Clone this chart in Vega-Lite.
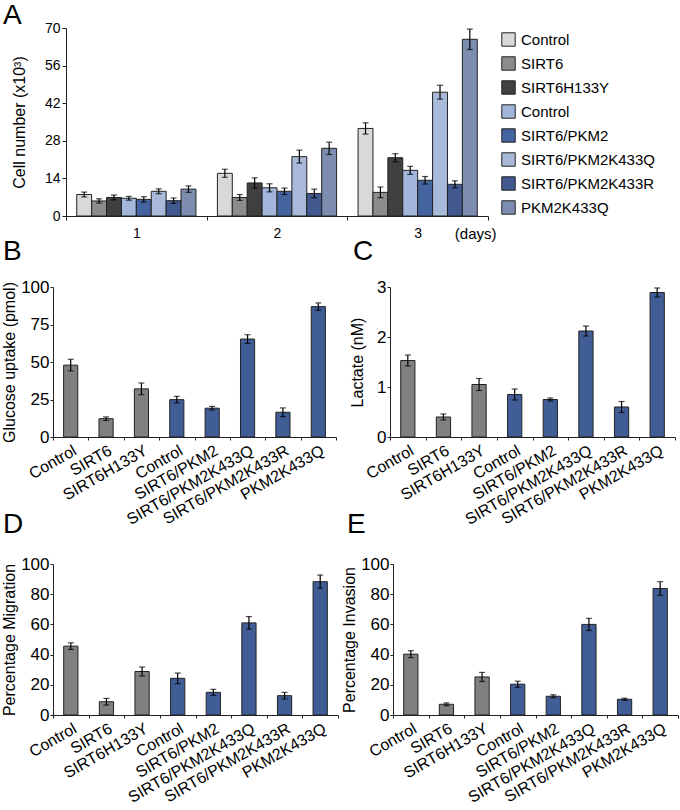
{
  "$schema": "https://vega.github.io/schema/vega-lite/v6.json",
  "background": "white",
  "padding": {"left": 0, "top": 2, "right": 0, "bottom": 2},
  "config": {
    "font": "Liberation Sans",
    "view": {"stroke": null},
    "axis": {"domainColor": "#222", "tickColor": "#222", "labelColor": "#000", "titleColor": "#000", "grid": false, "titleFontWeight": "normal", "titleFontSize": 16, "labelOverlap": false},
    "title": {"fontSize": 28, "fontWeight": "normal", "anchor": "start", "frame": "group", "color": "#000", "offset": 0}
  },
  "datasets": {
    "cells": [
      {"day": 1, "c": 1, "v": 8.0, "lo": 7.1, "hi": 8.9},
      {"day": 1, "c": 2, "v": 5.6, "lo": 4.8, "hi": 6.4},
      {"day": 1, "c": 3, "v": 6.9, "lo": 6.0, "hi": 7.8},
      {"day": 1, "c": 4, "v": 6.6, "lo": 5.9, "hi": 7.3},
      {"day": 1, "c": 5, "v": 6.2, "lo": 5.2, "hi": 7.2},
      {"day": 1, "c": 6, "v": 9.2, "lo": 8.3, "hi": 10.1},
      {"day": 1, "c": 7, "v": 5.7, "lo": 4.7, "hi": 6.7},
      {"day": 1, "c": 8, "v": 10.0, "lo": 8.8, "hi": 11.2},
      {"day": 2, "c": 1, "v": 15.9, "lo": 14.4, "hi": 17.4},
      {"day": 2, "c": 2, "v": 6.9, "lo": 5.8, "hi": 8.0},
      {"day": 2, "c": 3, "v": 12.3, "lo": 10.4, "hi": 14.2},
      {"day": 2, "c": 4, "v": 10.5, "lo": 9.0, "hi": 12.0},
      {"day": 2, "c": 5, "v": 9.2, "lo": 8.0, "hi": 10.4},
      {"day": 2, "c": 6, "v": 22.1, "lo": 19.7, "hi": 24.5},
      {"day": 2, "c": 7, "v": 8.4, "lo": 6.8, "hi": 10.0},
      {"day": 2, "c": 8, "v": 25.2, "lo": 22.9, "hi": 27.5},
      {"day": 3, "c": 1, "v": 32.6, "lo": 30.5, "hi": 34.7},
      {"day": 3, "c": 2, "v": 8.8, "lo": 6.8, "hi": 10.8},
      {"day": 3, "c": 3, "v": 21.7, "lo": 20.2, "hi": 23.2},
      {"day": 3, "c": 4, "v": 17.0, "lo": 15.5, "hi": 18.5},
      {"day": 3, "c": 5, "v": 13.3, "lo": 11.9, "hi": 14.7},
      {"day": 3, "c": 6, "v": 46.1, "lo": 43.5, "hi": 48.7},
      {"day": 3, "c": 7, "v": 11.8, "lo": 10.5, "hi": 13.1},
      {"day": 3, "c": 8, "v": 65.8, "lo": 62.0, "hi": 69.6}
    ],
    "glucose": [
      {"i": 1, "v": 47.9, "lo": 44.0, "hi": 51.8},
      {"i": 2, "v": 12.2, "lo": 11.0, "hi": 13.4},
      {"i": 3, "v": 32.1, "lo": 28.2, "hi": 36.0},
      {"i": 4, "v": 24.9, "lo": 22.7, "hi": 27.1},
      {"i": 5, "v": 19.2, "lo": 18.0, "hi": 20.4},
      {"i": 6, "v": 65.3, "lo": 62.4, "hi": 68.2},
      {"i": 7, "v": 16.5, "lo": 13.6, "hi": 19.4},
      {"i": 8, "v": 86.9, "lo": 84.4, "hi": 89.4}
    ],
    "lactate": [
      {"i": 1, "v": 1.53, "lo": 1.42, "hi": 1.64},
      {"i": 2, "v": 0.40, "lo": 0.34, "hi": 0.46},
      {"i": 3, "v": 1.05, "lo": 0.93, "hi": 1.17},
      {"i": 4, "v": 0.85, "lo": 0.74, "hi": 0.96},
      {"i": 5, "v": 0.75, "lo": 0.72, "hi": 0.78},
      {"i": 6, "v": 2.12, "lo": 2.02, "hi": 2.22},
      {"i": 7, "v": 0.60, "lo": 0.49, "hi": 0.71},
      {"i": 8, "v": 2.89, "lo": 2.80, "hi": 2.98}
    ],
    "migration": [
      {"i": 1, "v": 45.6, "lo": 43.4, "hi": 47.8},
      {"i": 2, "v": 8.8, "lo": 6.6, "hi": 11.0},
      {"i": 3, "v": 28.8, "lo": 25.8, "hi": 31.8},
      {"i": 4, "v": 24.3, "lo": 20.8, "hi": 27.8},
      {"i": 5, "v": 15.0, "lo": 13.0, "hi": 17.0},
      {"i": 6, "v": 61.0, "lo": 56.8, "hi": 65.2},
      {"i": 7, "v": 12.8, "lo": 10.6, "hi": 15.0},
      {"i": 8, "v": 88.3, "lo": 83.9, "hi": 92.7}
    ],
    "invasion": [
      {"i": 1, "v": 40.3, "lo": 38.0, "hi": 42.6},
      {"i": 2, "v": 7.1, "lo": 6.2, "hi": 8.0},
      {"i": 3, "v": 25.2, "lo": 22.2, "hi": 28.2},
      {"i": 4, "v": 20.4, "lo": 18.4, "hi": 22.4},
      {"i": 5, "v": 12.4, "lo": 11.4, "hi": 13.4},
      {"i": 6, "v": 60.0, "lo": 56.0, "hi": 64.0},
      {"i": 7, "v": 10.4, "lo": 9.7, "hi": 11.1},
      {"i": 8, "v": 83.8, "lo": 79.3, "hi": 88.3}
    ]
  },
  "columns": 1,
  "spacing": -3,
  "align": "none",
  "concat": [
    {
      "title": {"text": "A", "dx": -50, "dy": 13},
      "width": 435,
      "height": 188,
      "data": {"name": "cells"},
      "encoding": {
        "x": {"field": "day", "type": "ordinal", "scale": {"paddingInner": 0, "paddingOuter": 0, "range": [13, 435]},
          "axis": {"labelAngle": 0, "labelFontSize": 14, "tickBand": "extent", "tickSize": 4, "labelPadding": 6, "title": "(days)", "titleFontSize": 15, "titleAngle": 0, "titleX": 443, "titleY": 10, "titleAlign": "right", "titleBaseline": "top"}},
        "xOffset": {"field": "c", "type": "nominal", "scale": {"paddingInner": 0, "paddingOuter": 0.72}}
      },
      "layer": [
        {
          "mark": {"type": "bar", "stroke": "#222", "strokeWidth": 1},
          "encoding": {
            "y": {"field": "v", "type": "quantitative", "title": "Cell number (x10³)", "scale": {"domain": [0, 70]},
              "axis": {"values": [0, 14, 28, 42, 56, 70], "offset": -13, "tickCount": 12, "labelFontSize": 14, "tickSize": 4, "labelPadding": 2, "minExtent": 27, "maxExtent": 27, "titlePadding": 12}},
            "fill": {"field": "c", "type": "nominal",
              "scale": {"domain": [1, 2, 3, 4, 5, 6, 7, 8], "range": ["#d9d9d9", "#8c8c8c", "#404040", "#a3b6dc", "#45649f", "#a9b9d9", "#42598f", "#7d8db0"]},
              "legend": {"orient": "none", "legendX": 448, "legendY": 4, "title": null, "symbolType": "square", "symbolSize": 180, "symbolStrokeColor": "#222", "symbolStrokeWidth": 1, "labelFontSize": 15, "labelLimit": 250, "rowPadding": 5, "labelOffset": 5,
                "labelExpr": "['Control','SIRT6','SIRT6H133Y','Control','SIRT6/PKM2','SIRT6/PKM2K433Q','SIRT6/PKM2K433R','PKM2K433Q'][datum.value-1]"}}
          }
        },
        {
          "mark": {"type": "rule", "color": "#000", "strokeWidth": 1.2},
          "encoding": {"y": {"field": "lo", "type": "quantitative", "title": "Cell number (x10³)"}, "y2": {"field": "hi"}}
        },
        {
          "mark": {"type": "tick", "color": "#000", "size": 6, "thickness": 1.2, "orient": "horizontal"},
          "encoding": {"y": {"field": "lo", "type": "quantitative", "title": "Cell number (x10³)"}}
        },
        {
          "mark": {"type": "tick", "color": "#000", "size": 6, "thickness": 1.2, "orient": "horizontal"},
          "encoding": {"y": {"field": "hi", "type": "quantitative", "title": "Cell number (x10³)"}}
        }
      ]
    },
    {
      "columns": 1,
      "spacing": -17,
      "align": "none",
      "concat": [
        {
          "spacing": 12,
          "hconcat": [
            {
              "title": {"text": "B", "dx": -50, "dy": -8},
              "width": 283, "height": 150,
              "data": {"name": "glucose"},
              "encoding": {
                "x": {"field": "i", "type": "ordinal", "scale": {"paddingInner": 0, "paddingOuter": 0},
                  "axis": {"title": null, "labelAngle": -30, "labelFontSize": 16, "tickBand": "extent", "tickSize": 3, "labelPadding": 2,
                    "labelExpr": "['Control','SIRT6','SIRT6H133Y','Control','SIRT6/PKM2','SIRT6/PKM2K433Q','SIRT6/PKM2K433R','PKM2K433Q'][datum.value-1]"}}
              },
              "layer": [
                {"mark": {"type": "bar", "width": {"band": 0.4}, "stroke": "#222", "strokeWidth": 1},
                  "encoding": {
                    "y": {"field": "v", "type": "quantitative", "title": "Glucose uptake (pmol)", "scale": {"domain": [0, 100]},
                      "axis": {"values": [0, 25, 50, 75, 100], "tickCount": 12, "labelFontSize": 17, "tickSize": 3, "labelPadding": 1, "minExtent": 32, "maxExtent": 32, "titlePadding": 4}},
                    "fill": {"condition": {"test": "datum.i <= 3", "value": "#808080"}, "value": "#415d96"}
                  }},
                {"mark": {"type": "rule", "color": "#000", "strokeWidth": 1.2},
                  "encoding": {"y": {"field": "lo", "type": "quantitative", "title": "Glucose uptake (pmol)"}, "y2": {"field": "hi"}}},
                {"mark": {"type": "tick", "color": "#000", "size": 6, "thickness": 1.2, "orient": "horizontal"},
                  "encoding": {"y": {"field": "lo", "type": "quantitative", "title": "Glucose uptake (pmol)"}}},
                {"mark": {"type": "tick", "color": "#000", "size": 6, "thickness": 1.2, "orient": "horizontal"},
                  "encoding": {"y": {"field": "hi", "type": "quantitative", "title": "Glucose uptake (pmol)"}}}
              ]
            },
            {
              "title": {"text": "C", "dx": -37, "dy": -8},
              "width": 285, "height": 150,
              "data": {"name": "lactate"},
              "encoding": {
                "x": {"field": "i", "type": "ordinal", "scale": {"paddingInner": 0, "paddingOuter": 0},
                  "axis": {"title": null, "labelAngle": -30, "labelFontSize": 16, "tickBand": "extent", "tickSize": 3, "labelPadding": 2,
                    "labelExpr": "['Control','SIRT6','SIRT6H133Y','Control','SIRT6/PKM2','SIRT6/PKM2K433Q','SIRT6/PKM2K433R','PKM2K433Q'][datum.value-1]"}}
              },
              "layer": [
                {"mark": {"type": "bar", "width": {"band": 0.4}, "stroke": "#222", "strokeWidth": 1},
                  "encoding": {
                    "y": {"field": "v", "type": "quantitative", "title": "Lactate (nM)", "scale": {"domain": [0, 3]},
                      "axis": {"values": [0, 1, 2, 3], "format": "d", "tickCount": 12, "labelFontSize": 17, "tickSize": 3, "labelPadding": 1, "minExtent": 14, "maxExtent": 14, "titlePadding": 11}},
                    "fill": {"condition": {"test": "datum.i <= 3", "value": "#808080"}, "value": "#415d96"}
                  }},
                {"mark": {"type": "rule", "color": "#000", "strokeWidth": 1.2},
                  "encoding": {"y": {"field": "lo", "type": "quantitative", "title": "Lactate (nM)"}, "y2": {"field": "hi"}}},
                {"mark": {"type": "tick", "color": "#000", "size": 6, "thickness": 1.2, "orient": "horizontal"},
                  "encoding": {"y": {"field": "lo", "type": "quantitative", "title": "Lactate (nM)"}}},
                {"mark": {"type": "tick", "color": "#000", "size": 6, "thickness": 1.2, "orient": "horizontal"},
                  "encoding": {"y": {"field": "hi", "type": "quantitative", "title": "Lactate (nM)"}}}
              ]
            }
          ]
        },
        {
          "spacing": 1,
          "hconcat": [
            {
              "title": {"text": "D", "dx": -50, "dy": -12},
              "width": 285, "height": 151,
              "data": {"name": "migration"},
              "encoding": {
                "x": {"field": "i", "type": "ordinal", "scale": {"paddingInner": 0, "paddingOuter": 0},
                  "axis": {"title": null, "labelAngle": -30, "labelFontSize": 16, "tickBand": "extent", "tickSize": 3, "labelPadding": 2,
                    "labelExpr": "['Control','SIRT6','SIRT6H133Y','Control','SIRT6/PKM2','SIRT6/PKM2K433Q','SIRT6/PKM2K433R','PKM2K433Q'][datum.value-1]"}}
              },
              "layer": [
                {"mark": {"type": "bar", "width": {"band": 0.4}, "stroke": "#222", "strokeWidth": 1},
                  "encoding": {
                    "y": {"field": "v", "type": "quantitative", "title": "Percentage Migration", "scale": {"domain": [0, 100]},
                      "axis": {"values": [0, 20, 40, 60, 80, 100], "tickCount": 12, "labelFontSize": 17, "tickSize": 3, "labelPadding": 1, "minExtent": 32, "maxExtent": 32, "titlePadding": 4}},
                    "fill": {"condition": {"test": "datum.i <= 3", "value": "#808080"}, "value": "#415d96"}
                  }},
                {"mark": {"type": "rule", "color": "#000", "strokeWidth": 1.2},
                  "encoding": {"y": {"field": "lo", "type": "quantitative", "title": "Percentage Migration"}, "y2": {"field": "hi"}}},
                {"mark": {"type": "tick", "color": "#000", "size": 6, "thickness": 1.2, "orient": "horizontal"},
                  "encoding": {"y": {"field": "lo", "type": "quantitative", "title": "Percentage Migration"}}},
                {"mark": {"type": "tick", "color": "#000", "size": 6, "thickness": 1.2, "orient": "horizontal"},
                  "encoding": {"y": {"field": "hi", "type": "quantitative", "title": "Percentage Migration"}}}
              ]
            },
            {
              "title": {"text": "E", "dx": -46, "dy": -12},
              "width": 285, "height": 151,
              "data": {"name": "invasion"},
              "encoding": {
                "x": {"field": "i", "type": "ordinal", "scale": {"paddingInner": 0, "paddingOuter": 0},
                  "axis": {"title": null, "labelAngle": -30, "labelFontSize": 16, "tickBand": "extent", "tickSize": 3, "labelPadding": 2,
                    "labelExpr": "['Control','SIRT6','SIRT6H133Y','Control','SIRT6/PKM2','SIRT6/PKM2K433Q','SIRT6/PKM2K433R','PKM2K433Q'][datum.value-1]"}}
              },
              "layer": [
                {"mark": {"type": "bar", "width": {"band": 0.4}, "stroke": "#222", "strokeWidth": 1},
                  "encoding": {
                    "y": {"field": "v", "type": "quantitative", "title": "Percentage Invasion", "scale": {"domain": [0, 100]},
                      "axis": {"values": [0, 20, 40, 60, 80, 100], "tickCount": 12, "labelFontSize": 17, "tickSize": 3, "labelPadding": 1, "minExtent": 32, "maxExtent": 32, "titlePadding": 4}},
                    "fill": {"condition": {"test": "datum.i <= 3", "value": "#808080"}, "value": "#415d96"}
                  }},
                {"mark": {"type": "rule", "color": "#000", "strokeWidth": 1.2},
                  "encoding": {"y": {"field": "lo", "type": "quantitative", "title": "Percentage Invasion"}, "y2": {"field": "hi"}}},
                {"mark": {"type": "tick", "color": "#000", "size": 6, "thickness": 1.2, "orient": "horizontal"},
                  "encoding": {"y": {"field": "lo", "type": "quantitative", "title": "Percentage Invasion"}}},
                {"mark": {"type": "tick", "color": "#000", "size": 6, "thickness": 1.2, "orient": "horizontal"},
                  "encoding": {"y": {"field": "hi", "type": "quantitative", "title": "Percentage Invasion"}}}
              ]
            }
          ]
        }
      ]
    }
  ]
}
